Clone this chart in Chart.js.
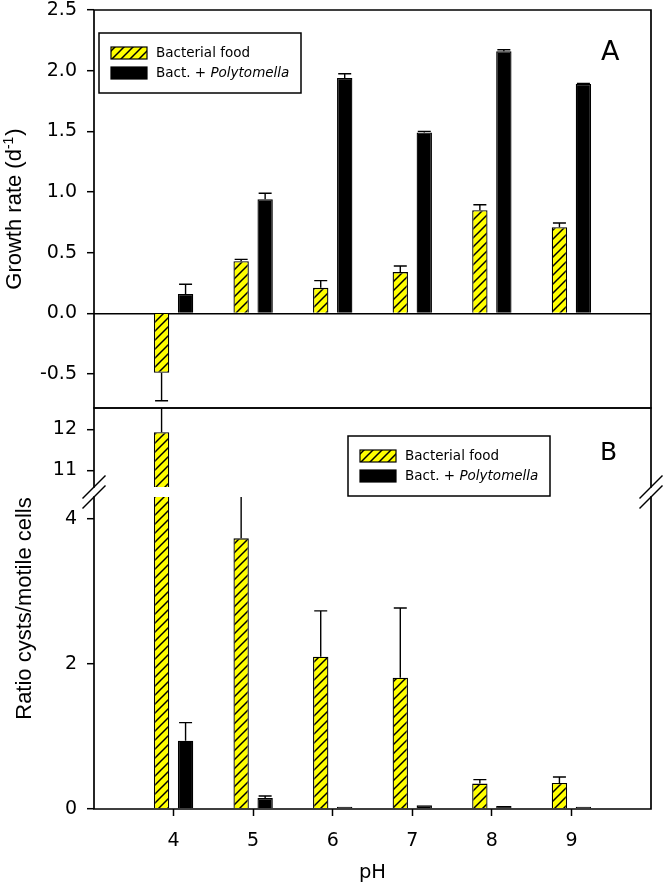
<!DOCTYPE html>
<html>
<head>
<meta charset="utf-8">
<script src="https://cdn.jsdelivr.net/npm/chart.js@4.4.0/dist/chart.umd.min.js"></script>
<style>
  html, body { margin: 0; padding: 0; background: #fff; }
  #wrap { position: relative; width: 663px; height: 889px; }
  canvas { position: absolute; left: 0; }
</style>
</head>
<body>
<div id="wrap">
  <canvas id="chart-b-low" width="663" height="489" style="top:400px"></canvas>
  <canvas id="chart-b-up" width="663" height="90" style="top:400px"></canvas>
  <canvas id="chart-a" width="663" height="412" style="top:0"></canvas>
</div>
<script>
// values
const phLabels = ['4', '5', '6', '7', '8', '9']
const seriesNames = ['Bacterial food', 'Bact. + Polytomella']

const growthBact = [-0.49, 0.43, 0.21, 0.34, 0.85, 0.71]
const growthBactErr = [0.23, 0.015, 0.06, 0.05, 0.045, 0.035]
const growthPoly = [0.16, 0.94, 1.94, 1.49, 2.16, 1.89]
const growthPolyErr = [0.08, 0.05, 0.035, 0.01, 0.012, 0.005]

const ratioBact = [11.93, 3.73, 2.10, 1.81, 0.35, 0.36]
const ratioBactErr = [1.0, 1.0, 0.63, 0.96, 0.055, 0.08]
const ratioPoly = [0.94, 0.15, 0.03, 0.05, 0.04, 0.03]
const ratioPolyErr = [0.25, 0.03, 0, 0, 0, 0]

const growthTicks = [-0.5, 0, 0.5, 1, 1.5, 2, 2.5]
const ratioTicksHigh = [11, 12]
const ratioTicksLow = [0, 2, 4]

Chart.defaults.font.family = 'DejaVu Sans'
Chart.defaults.color = '#000'

// pH 3 and 10 are empty slots at the axis ends
const axisLabels = ['3', ...phLabels, '10']
const pad = arr => [null, ...arr, null]

function hatch() {
  const n = 9
  const c = document.createElement('canvas')
  c.width = n; c.height = n
  const g = c.getContext('2d')
  g.fillStyle = '#ffff00'
  g.fillRect(0, 0, n, n)
  g.strokeStyle = '#000'
  g.lineWidth = 1.5
  g.beginPath()
  g.moveTo(0, n); g.lineTo(n, 0)
  g.moveTo(-2, 2); g.lineTo(2, -2)
  g.moveTo(n - 2, n + 2); g.lineTo(n + 2, n - 2)
  g.stroke()
  return g.createPattern(c, 'repeat')
}
const yellowHatch = hatch()

function makeDatasets(bact, bactErr, poly, polyErr) {
  return [
    { label: seriesNames[0], data: pad(bact), errors: pad(bactErr), backgroundColor: yellowHatch, borderColor: '#000', borderWidth: 1.3 },
    { label: seriesNames[1], data: pad(poly), errors: pad(polyErr), backgroundColor: '#000', borderColor: '#000', borderWidth: 1.3 }
  ]
}

const errorBars = {
  id: 'errorBars',
  afterDatasetsDraw(chart) {
    const { ctx, chartArea: a, scales: { y } } = chart
    ctx.save()
    ctx.beginPath()
    ctx.rect(a.left, a.top, a.right - a.left, a.bottom - a.top)
    ctx.clip()
    ctx.strokeStyle = '#000'
    ctx.lineWidth = 1.4
    chart.data.datasets.forEach((ds, i) => {
      chart.getDatasetMeta(i).data.forEach((bar, j) => {
        const v = ds.data[j], e = ds.errors[j]
        if (v == null || !e) return
        const y0 = y.getPixelForValue(v)
        const y1 = y.getPixelForValue(v < 0 ? v - e : v + e)
        ctx.beginPath()
        ctx.moveTo(bar.x, y0); ctx.lineTo(bar.x, y1)
        ctx.moveTo(bar.x - 6.5, y1); ctx.lineTo(bar.x + 6.5, y1)
        ctx.stroke()
      })
    })
    ctx.restore()
  }
}

const frame = {
  id: 'frame',
  afterDatasetsDraw(chart, args, o) {
    const { ctx, chartArea: a } = chart
    ctx.save()
    ctx.strokeStyle = '#000'
    ctx.lineWidth = 1.7
    ctx.lineCap = 'square'
    ctx.beginPath()
    if (o.top) { ctx.moveTo(a.left, a.top); ctx.lineTo(a.right, a.top) }
    if (o.bottom) { ctx.moveTo(a.left, a.bottom); ctx.lineTo(a.right, a.bottom) }
    ctx.moveTo(a.left, a.top); ctx.lineTo(a.left, a.bottom)
    ctx.moveTo(a.right, a.top); ctx.lineTo(a.right, a.bottom)
    ctx.stroke()
    ctx.restore()
  }
}

const boxLegend = {
  id: 'boxLegend',
  afterDraw(chart, args, o) {
    const { ctx } = chart
    const x = o.x, y = o.y
    ctx.save()
    ctx.fillStyle = '#fff'
    ctx.fillRect(x, y, 202, 60)
    ctx.strokeStyle = '#000'
    ctx.lineWidth = 1.5
    ctx.strokeRect(x, y, 202, 60)
    chart.data.datasets.forEach((ds, i) => {
      const cy = y + 20 + i * 20
      ctx.fillStyle = ds.backgroundColor
      ctx.fillRect(x + 12, cy - 6, 36, 12)
      ctx.lineWidth = 1.2
      ctx.strokeRect(x + 12, cy - 6, 36, 12)
      ctx.fillStyle = '#000'
      ctx.textBaseline = 'middle'
      ctx.textAlign = 'left'
      let tx = x + 57
      const parts = ds.label.split('Polytomella')
      ctx.font = '13.5px "DejaVu Sans"'
      ctx.fillText(parts[0], tx, cy)
      if (parts.length > 1) {
        tx += ctx.measureText(parts[0]).width
        ctx.font = 'italic 13.5px "DejaVu Sans"'
        ctx.fillText('Polytomella', tx, cy)
      }
    })
    ctx.fillStyle = '#000'
    ctx.textBaseline = 'alphabetic'
    ctx.font = o.letterSize + 'px "DejaVu Sans"'
    ctx.fillText(o.letter, o.lx, o.ly)
    ctx.restore()
  }
}

const sideTitle = {
  id: 'sideTitle',
  afterDraw(chart, args, o) {
    const { ctx } = chart
    const cy = o.cy(chart)
    ctx.save()
    ctx.translate(o.x, cy)
    ctx.rotate(-Math.PI / 2)
    ctx.fillStyle = '#000'
    ctx.textBaseline = 'alphabetic'
    const main = '22px "Liberation Sans"', small = '14px "Liberation Sans"'
    ctx.font = main
    const w1 = ctx.measureText(o.text).width
    let w2 = 0, w3 = 0
    if (o.sup) {
      ctx.font = small; w2 = ctx.measureText(o.sup).width + 1
      ctx.font = main; w3 = ctx.measureText(o.after).width
    }
    let tx = -(w1 + w2 + w3) / 2
    ctx.textAlign = 'left'
    ctx.font = main
    ctx.fillText(o.text, tx, 0)
    if (o.sup) {
      tx += w1
      ctx.font = small
      ctx.fillText(o.sup, tx, -8)
      tx += w2
      ctx.font = main
      ctx.fillText(o.after, tx, 0)
    }
    ctx.restore()
  }
}

const hiddenX = {
  type: 'category',
  offset: false,
  display: false,
  grid: { display: false, offset: false }
}

function yAxis(min, max, tickList, fmt, zeroLine) {
  return {
    min, max,
    afterFit: s => { s.width = 94; s.paddingTop = 0; s.paddingBottom = 0 },
    afterBuildTicks: s => { s.ticks = tickList.map(v => ({ value: v })) },
    border: { display: false },
    grid: {
      drawOnChartArea: !!zeroLine,
      color: c => (zeroLine && c.tick && c.tick.value === 0) ? '#000' : 'rgba(0,0,0,0)',
      lineWidth: 1.4,
      tickColor: '#000',
      tickLength: 7,
      tickWidth: 1.5
    },
    ticks: { padding: 10, font: { size: 19 }, color: '#000', callback: fmt }
  }
}

const barOpts = { categoryPercentage: 0.603, barPercentage: 0.64 }

// Panel A
const chartA = new Chart(document.getElementById('chart-a'), {
  type: 'bar',
  data: { labels: axisLabels, datasets: makeDatasets(growthBact, growthBactErr, growthPoly, growthPolyErr) },
  options: {
    responsive: false,
    animation: false,
    datasets: { bar: barOpts },
    layout: { autoPadding: false, padding: { top: 10, right: 12, bottom: 4, left: 0 } },
    plugins: {
      legend: { display: false },
      tooltip: { enabled: false },
      frame: { top: true, bottom: true },
      boxLegend: { x: 99, y: 33, letter: 'A', letterSize: 27, lx: 601, ly: 60 },
      sideTitle: { x: 21, text: 'Growth rate (d', sup: '-1', after: ')', cy: c => (c.chartArea.top + c.chartArea.bottom) / 2 }
    },
    scales: {
      x: hiddenX,
      y: yAxis(-0.78, 2.5, growthTicks, v => v.toFixed(1), true)
    }
  },
  plugins: [errorBars, frame, boxLegend, sideTitle]
})

// Panel B, upper part of the broken axis
const chartBUp = new Chart(document.getElementById('chart-b-up'), {
  type: 'bar',
  data: { labels: axisLabels, datasets: makeDatasets(ratioBact, ratioBactErr, ratioPoly, ratioPolyErr) },
  options: {
    responsive: false,
    animation: false,
    datasets: { bar: barOpts },
    layout: { autoPadding: false, padding: { top: 8, right: 12, bottom: 3, left: 0 } },
    plugins: {
      legend: { display: false },
      tooltip: { enabled: false },
      frame: { top: true, bottom: false }
    },
    scales: {
      x: hiddenX,
      y: yAxis(10.59, 12.52, ratioTicksHigh, v => String(v), false)
    }
  },
  plugins: [errorBars, frame]
})

const breakMarks = {
  id: 'breakMarks',
  afterDraw(chart) {
    const { ctx, chartArea: a } = chart
    const upBottom = chartBUp.chartArea.bottom
    ctx.save()
    ctx.strokeStyle = '#000'
    ctx.lineWidth = 1.4
    ;[a.left, a.right].forEach(x => {
      ;[upBottom, a.top].forEach(y => {
        ctx.beginPath()
        ctx.moveTo(x - 11.5, y + 11.5)
        ctx.lineTo(x + 11.5, y - 11.5)
        ctx.stroke()
      })
    })
    ctx.restore()
  }
}

// Panel B, lower part with the pH axis
const chartBLow = new Chart(document.getElementById('chart-b-low'), {
  type: 'bar',
  data: { labels: axisLabels, datasets: makeDatasets(ratioBact, ratioBactErr, ratioPoly, ratioPolyErr) },
  options: {
    responsive: false,
    animation: false,
    datasets: { bar: barOpts },
    layout: { autoPadding: false, padding: { top: 97, right: 12, bottom: 0, left: 0 } },
    plugins: {
      legend: { display: false },
      tooltip: { enabled: false },
      frame: { top: false, bottom: true },
      boxLegend: { x: 348, y: 36, letter: 'B', letterSize: 25, lx: 600, ly: 60 },
      sideTitle: { x: 30.5, text: 'Ratio cysts/motile cells', cy: c => (chartBUp.chartArea.top + c.chartArea.bottom) / 2 }
    },
    scales: {
      x: {
        type: 'category',
        offset: false,
        afterFit: s => { s.height = 80; s.paddingLeft = 0; s.paddingRight = 0 },
        border: { display: false },
        grid: {
          offset: false,
          drawOnChartArea: false,
          tickLength: 7,
          tickWidth: 1.5,
          tickColor: c => (c.index === 0 || c.index === axisLabels.length - 1) ? 'rgba(0,0,0,0)' : '#000'
        },
        ticks: {
          padding: 14,
          font: { size: 19 },
          color: '#000',
          maxRotation: 0,
          autoSkip: false,
          callback: (v, i) => phLabels.includes(axisLabels[i]) ? axisLabels[i] : ''
        },
        title: { display: true, text: 'pH', font: { size: 19.5 }, color: '#000', padding: { top: 0, bottom: 4 } }
      },
      y: yAxis(0, 4.3, ratioTicksLow, v => String(v), false)
    }
  },
  plugins: [errorBars, frame, breakMarks, boxLegend, sideTitle]
})
</script>
</body>
</html>
